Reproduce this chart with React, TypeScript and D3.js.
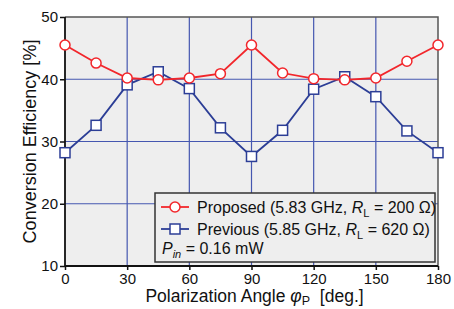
import { useRef, useEffect } from 'react'
import * as d3 from 'd3'

const angles = [0, 15, 30, 45, 60, 75, 90, 105, 120, 135, 150, 165, 180]
const proposed = [45.5, 42.6, 40.2, 39.9, 40.2, 40.9, 45.5, 41.0, 40.1, 39.9, 40.2, 42.9, 45.5]
const previous = [28.2, 32.6, 39.1, 41.2, 38.5, 32.2, 27.6, 31.8, 38.4, 40.4, 37.2, 31.7, 28.2]
const xTicks = [0, 30, 60, 90, 120, 150, 180]
const yTicks = [10, 20, 30, 40, 50]

const RED = '#f2262b'
const BLUE = '#2c3e96'
const GRID = '#4557b0'

export default function App() {
  const svgRef = useRef<SVGSVGElement>(null)

  useEffect(() => {
    const w = 454
    const h = 309
    const m = { left: 65, top: 17, right: 16, bottom: 43 }
    const svg = d3.select(svgRef.current)
    svg.selectAll('*').remove()
    svg.attr('width', w).attr('height', h).style('font-family', 'Liberation Sans, Arial, sans-serif')

    const x = d3.scaleLinear().domain([0, 180]).range([m.left, w - m.right])
    const y = d3.scaleLinear().domain([10, 50]).range([h - m.bottom, m.top])

    // background
    svg.append('rect')
      .attr('x', x(0)).attr('y', y(50))
      .attr('width', x(180) - x(0)).attr('height', y(10) - y(50))
      .attr('fill', '#eeeeee')

    // grid
    svg.append('g').selectAll('line').data(xTicks.slice(1, -1)).join('line')
      .attr('x1', d => x(d)).attr('x2', d => x(d))
      .attr('y1', y(10)).attr('y2', y(50))
      .attr('stroke', GRID).attr('stroke-width', 1.2)
    svg.append('g').selectAll('line').data(yTicks.slice(1, -1)).join('line')
      .attr('x1', x(0)).attr('x2', x(180))
      .attr('y1', d => y(d)).attr('y2', d => y(d))
      .attr('stroke', GRID).attr('stroke-width', 1.2)

    // frame
    svg.append('path')
      .attr('d', `M${x(0)},${y(50)}H${x(180)}V${y(10)}`)
      .attr('fill', 'none').attr('stroke', '#555').attr('stroke-width', 1.5)
    svg.append('path')
      .attr('d', `M${x(0)},${y(50)}V${y(10)}H${x(180)}`)
      .attr('fill', 'none').attr('stroke', '#111').attr('stroke-width', 1.8)

    // axes
    const xAxis = svg.append('g')
      .attr('transform', `translate(0,${y(10)})`)
      .call(d3.axisBottom(x).tickValues(xTicks).tickSize(4).tickPadding(3))
    const yAxis = svg.append('g')
      .attr('transform', `translate(${x(0)},0)`)
      .call(d3.axisLeft(y).tickValues(yTicks).tickSize(5).tickPadding(2))
    for (const a of [xAxis, yAxis]) {
      a.select('.domain').remove()
      a.selectAll('line').attr('stroke', '#111').attr('stroke-width', 1.5)
      a.selectAll('text').attr('fill', '#111').style('font-size', '15px')
        .style('font-family', 'Liberation Sans, Arial, sans-serif')
    }

    const line = d3.line<number>().x((d, i) => x(angles[i])).y(d => y(d))

    // previous series
    svg.append('path').datum(previous).attr('d', line)
      .attr('fill', 'none').attr('stroke', BLUE).attr('stroke-width', 1.8)
    svg.append('g').selectAll('rect').data(previous).join('rect')
      .attr('x', (d, i) => x(angles[i]) - 5).attr('y', d => y(d) - 5)
      .attr('width', 10).attr('height', 10)
      .attr('fill', 'white').attr('stroke', BLUE).attr('stroke-width', 1.5)

    // proposed series
    svg.append('path').datum(proposed).attr('d', line)
      .attr('fill', 'none').attr('stroke', RED).attr('stroke-width', 1.8)
    svg.append('g').selectAll('circle').data(proposed).join('circle')
      .attr('cx', (d, i) => x(angles[i])).attr('cy', d => y(d)).attr('r', 5)
      .attr('fill', 'white').attr('stroke', RED).attr('stroke-width', 1.5)

    // legend
    const lg = svg.append('g').attr('transform', 'translate(155,193)')
    lg.append('rect').attr('width', 280).attr('height', 69)
      .attr('fill', '#eeeeee').attr('stroke', '#333').attr('stroke-width', 1.5)
    const fs = '16px'
    const row1 = lg.append('g').attr('transform', 'translate(0,14)')
    row1.append('line').attr('x1', 6).attr('x2', 34).attr('stroke', RED).attr('stroke-width', 1.8)
    row1.append('circle').attr('cx', 20).attr('r', 5).attr('fill', 'white').attr('stroke', RED).attr('stroke-width', 1.5)
    const t1 = row1.append('text').attr('x', 42).attr('y', 5.5).style('font-size', fs).attr('fill', '#111')
    t1.append('tspan').text('Proposed (5.83 GHz, ')
    t1.append('tspan').attr('font-style', 'italic').text('R')
    t1.append('tspan').attr('dy', 4).style('font-size', '11px').text('L')
    t1.append('tspan').attr('dy', -4).text(' = 200 Ω)')

    const row2 = lg.append('g').attr('transform', 'translate(0,36)')
    row2.append('line').attr('x1', 6).attr('x2', 34).attr('stroke', BLUE).attr('stroke-width', 1.8)
    row2.append('rect').attr('x', 15).attr('y', -5).attr('width', 10).attr('height', 10)
      .attr('fill', 'white').attr('stroke', BLUE).attr('stroke-width', 1.5)
    const t2 = row2.append('text').attr('x', 42).attr('y', 5.5).style('font-size', fs).attr('fill', '#111')
    t2.append('tspan').text('Previous (5.85 GHz, ')
    t2.append('tspan').attr('font-style', 'italic').text('R')
    t2.append('tspan').attr('dy', 4).style('font-size', '11px').text('L')
    t2.append('tspan').attr('dy', -4).text(' = 620 Ω)')

    const t3 = lg.append('text').attr('x', 7).attr('y', 61).style('font-size', fs).attr('fill', '#111')
    t3.append('tspan').attr('font-style', 'italic').text('P')
    t3.append('tspan').attr('font-style', 'italic').attr('dy', 4).style('font-size', '11px').text('in')
    t3.append('tspan').attr('dy', -4).text(' = 0.16 mW')

    // axis titles
    const xt = svg.append('text').attr('x', (x(0) + x(180)) / 2 + 3).attr('y', 302)
      .attr('text-anchor', 'middle').style('font-size', '17.5px').style('white-space', 'pre')
      .attr('fill', '#111')
    xt.append('tspan').text('Polarization Angle ')
    xt.append('tspan').attr('font-style', 'italic').text('φ')
    xt.append('tspan').attr('dy', 3).style('font-size', '12.5px').text('P')
    xt.append('tspan').attr('dy', -3).text('  [deg.]')

    svg.append('text')
      .attr('transform', `translate(36,${(y(10) + y(50)) / 2}) rotate(-90)`)
      .attr('text-anchor', 'middle').style('font-size', '18px').attr('fill', '#111')
      .text('Conversion Efficiency [%]')
  }, [])

  return <svg ref={svgRef} style={{ position: 'absolute', left: 0, top: 0 }}></svg>
}
